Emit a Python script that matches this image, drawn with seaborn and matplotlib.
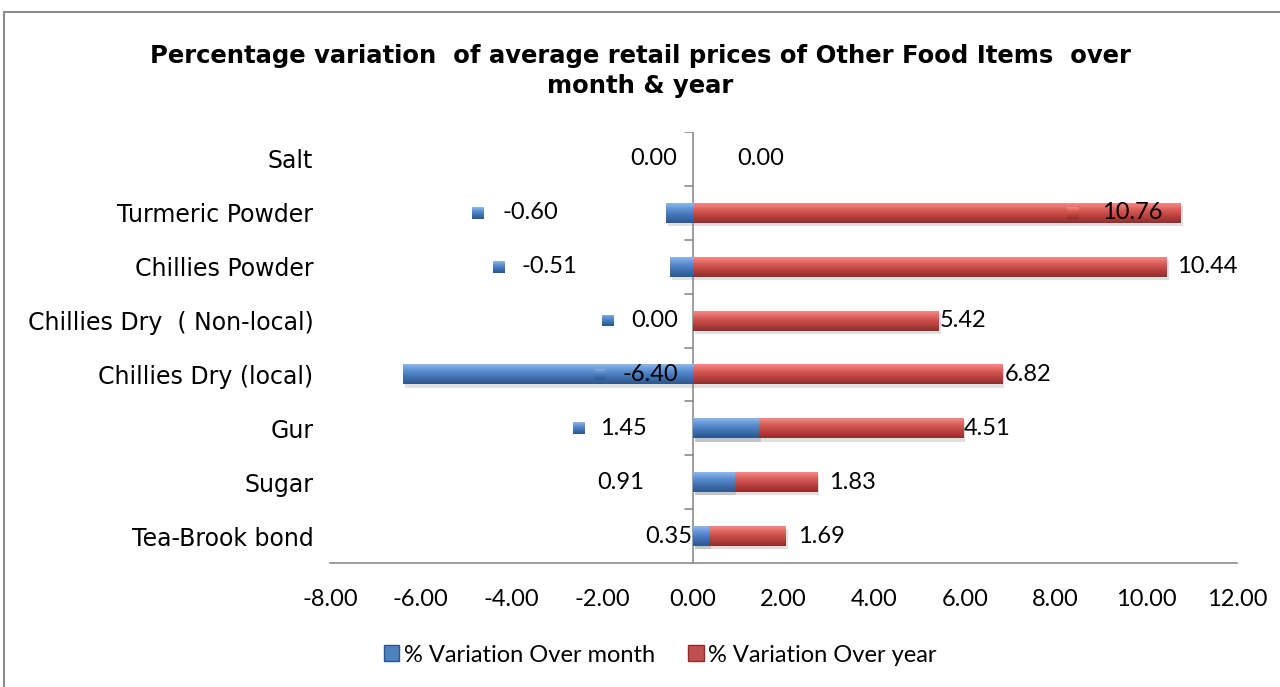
import numpy as np
import pandas as pd
import matplotlib
matplotlib.use("Agg")
import matplotlib.pyplot as plt
import matplotlib.patches as mpatches
from matplotlib.colors import LinearSegmentedColormap
import seaborn as sns

# ---------------- data ----------------
categories = ["Salt", "Turmeric Powder", "Chillies Powder", "Chillies Dry  ( Non-local)",
              "Chillies Dry (local)", "Gur", "Sugar", "Tea-Brook bond"]
over_month = [0.00, -0.60, -0.51, 0.00, -6.40, 1.45, 0.91, 0.35]
over_year = [0.00, 10.76, 10.44, 5.42, 6.82, 4.51, 1.83, 1.69]
series_names = ["% Variation Over month", "% Variation Over year"]
x_ticks = [-8, -6, -4, -2, 0, 2, 4, 6, 8, 10, 12]

# ---------------- label layout (as placed in the original) ----------------
month_text_x = [-0.86, -3.58, -3.17, -0.84, -0.93, -1.52, -1.60, -0.53]
month_marker_x = [None, -4.74, -4.27, -1.88, -2.05, -2.51, None, None]
year_text_x = [1.50, 9.70, 11.35, 5.95, 7.40, 6.50, 3.53, 2.84]
year_marker_x = [None, 8.37, None, None, None, None, None, None]

BLUE = "#4F81BD"
RED = "#C0504D"
blue_cmap = LinearSegmentedColormap.from_list("b", ["#8DB8EC", "#5B8FD0", "#3F70AE", "#2B578E"])
red_cmap = LinearSegmentedColormap.from_list("r", ["#F58A87", "#DA5C58", "#B8413E", "#8E2E2C"])

sns.set_theme(style="white")
plt.rcParams["font.family"] = ["Lato", "DejaVu Sans"]
plt.rcParams["text.color"] = "black"
plt.rcParams["xtick.color"] = "black"
plt.rcParams["ytick.color"] = "black"

LBL = 17

fig = plt.figure(figsize=(12.8, 6.87), dpi=100)
ax = fig.add_axes([330 / 1280, 1 - 563 / 687, 907 / 1280, 431 / 687])

# stacked totals: year bar starts where a positive month bar ends
red_total = [max(m, 0) + y for m, y in zip(over_month, over_year)]
df_red = pd.DataFrame({"cat": categories, "val": red_total})
df_blue = pd.DataFrame({"cat": categories, "val": over_month})

sns.barplot(data=df_red, y="cat", x="val", orient="h", color=RED, width=0.37,
            ax=ax, saturation=1, linewidth=0)
n_red = len(ax.patches)
sns.barplot(data=df_blue, y="cat", x="val", orient="h", color=BLUE, width=0.37,
            ax=ax, saturation=1, linewidth=0)

ax.set_xlim(-8, 12)
ax.set_ylim(len(categories) - 0.5, -0.5)

# gradient shading for a bevelled look
grad = np.linspace(0, 1, 64).reshape(-1, 1)
patches = list(ax.patches)
for i, p in enumerate(patches):
    x0, y0 = p.get_x(), p.get_y()
    w, h = p.get_width(), p.get_height()
    if abs(w) < 1e-9:
        continue
    cmap = red_cmap if i < n_red else blue_cmap
    sh = mpatches.Rectangle((x0 + 0.05, y0 + 0.06), w, h, color="#000000", alpha=0.12,
                            linewidth=0, zorder=p.get_zorder() - 0.5)
    ax.add_patch(sh)
    xl, xr = min(x0, x0 + w), max(x0, x0 + w)
    im = ax.imshow(grad, cmap=cmap, aspect="auto", extent=(xl, xr, y0 + h, y0),
                   zorder=p.get_zorder() + 0.1, interpolation="bicubic")
    im.set_clip_path(p)

ax.set_xlim(-8, 12)
ax.set_ylim(len(categories) - 0.5, -0.5)

# axes styling
for s in ["top", "right", "left"]:
    ax.spines[s].set_visible(False)
ax.spines["bottom"].set_color("#8C8C8C")
ax.spines["bottom"].set_linewidth(1.2)
ax.set_xticks(x_ticks)
ax.set_xticklabels([f"{v:.2f}" for v in x_ticks], fontsize=LBL)
ax.tick_params(axis="x", direction="in", length=7, color="#8C8C8C", width=1.2, pad=19)
ax.set_yticks(range(len(categories)))
ax.set_yticklabels(categories, fontsize=17, family="DejaVu Sans")
ax.tick_params(axis="y", length=0, pad=12)
ax.set_xlabel("")
ax.set_ylabel("")
ax.axvline(0, color="#8C8C8C", linewidth=1.2, zorder=1)
for b in np.arange(-0.5, len(categories) - 0.5, 1.0):
    ax.plot([-0.18, 0], [b, b], color="#8C8C8C", linewidth=1.2, zorder=1)


def marker(xc, yc, cmap):
    hw, hh = 0.125, 0.11
    r = mpatches.Rectangle((xc - hw, yc - hh), 2 * hw, 2 * hh, linewidth=0, zorder=6,
                           facecolor="none")
    ax.add_patch(r)
    im = ax.imshow(grad, cmap=cmap, aspect="auto", extent=(xc - hw, xc + hw, yc + hh, yc - hh),
                   zorder=6)
    im.set_clip_path(r)


for i in range(len(categories)):
    ax.text(month_text_x[i], i, f"{over_month[i]:.2f}", ha="center", va="center",
            fontsize=LBL, zorder=7)
    ax.text(year_text_x[i], i, f"{over_year[i]:.2f}", ha="center", va="center",
            fontsize=LBL, zorder=7)
    if month_marker_x[i] is not None:
        marker(month_marker_x[i], i, blue_cmap)
    if year_marker_x[i] is not None:
        marker(year_marker_x[i], i, red_cmap)

ax.set_xlim(-8, 12)
ax.set_ylim(len(categories) - 0.5, -0.5)

# title
fig.text(0.5, 1 - 71 / 687, "Percentage variation  of average retail prices of Other Food Items  over\nmonth & year",
         ha="center", va="center", fontsize=17.5, fontweight="bold", family="DejaVu Sans",
         linespacing=1.35, color="black")

# legend
handles = [mpatches.Patch(facecolor=BLUE, edgecolor="#2B578E"),
           mpatches.Patch(facecolor=RED, edgecolor="#8E2E2C")]
fig.legend(handles, series_names, loc="center", bbox_to_anchor=(0.516, 1 - 655 / 687),
           ncol=2, frameon=False, fontsize=LBL, handlelength=0.65, handleheight=0.65,
           handletextpad=0.2, columnspacing=1.4)

# outer frame
fig.patches.append(mpatches.Rectangle((4 / 1280, -0.01), 1.0, 1 - 12 / 687 + 0.01,
                                      transform=fig.transFigure, fill=False,
                                      edgecolor="#8C8C8C", linewidth=1.5))

fig.savefig("out.png", dpi=100)
